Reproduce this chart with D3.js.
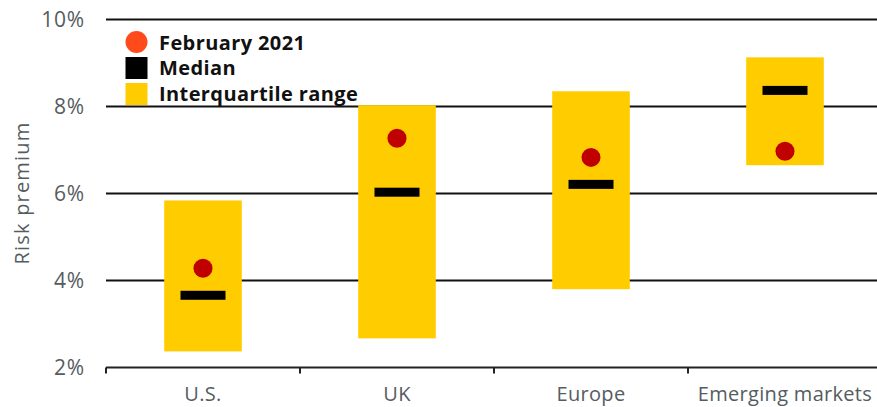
<!DOCTYPE html>
<html><head><meta charset="utf-8">
<script src="https://cdn.jsdelivr.net/npm/d3@7"></script>
<style>body{margin:0;background:#fff}svg{display:block}text{font-family:"Open Sans",Roboto,sans-serif}</style>
</head><body><svg id="c" width="877" height="407"></svg>
<script>
const categories = ["U.S.", "UK", "Europe", "Emerging markets"];
const q1 = [2.37, 2.67, 3.80, 6.65];
const q3 = [5.84, 8.03, 8.35, 9.13];
const median = [3.66, 6.03, 6.21, 8.37];
const feb2021 = [4.28, 7.27, 6.83, 6.97];
const yTicks = [2, 4, 6, 8, 10];
const legendItems = ["February 2021", "Median", "Interquartile range"];

const svg = d3.select("#c");
const x = d3.scaleBand().domain(categories).range([106, 882]).paddingInner(0.6).paddingOuter(0.3);
const y = d3.scaleLinear().domain([2, 10]).range([367.5, 19.5]);
const grey = "#555c60";

// gridlines
svg.append("g").selectAll("line").data(yTicks.filter(d => d > 2)).join("line")
  .attr("x1", 106).attr("x2", 877).attr("y1", d => y(d)).attr("y2", d => y(d))
  .attr("stroke", "#111").attr("stroke-width", 2);

// y tick labels
svg.append("g").selectAll("text").data(yTicks).join("text")
  .attr("x", 85).attr("y", d => y(d) + 7.5).attr("text-anchor", "end")
  .attr("font-size", 21).attr("letter-spacing", 0.8).attr("fill", grey).text(d => d + "%");

// y title
svg.append("text").attr("transform", "translate(29,193) rotate(-90)")
  .attr("text-anchor", "middle").attr("font-size", 20).attr("letter-spacing", 1.2)
  .attr("fill", grey).text("Risk premium");

// boxes
const gx = d => x(d);
svg.append("g").selectAll("rect").data(categories).join("rect")
  .attr("x", d => gx(d)).attr("width", x.bandwidth())
  .attr("y", (d, i) => y(q3[i])).attr("height", (d, i) => y(q1[i]) - y(q3[i]))
  .attr("fill", "#FFCC00");

// medians
const mw = 45, mh = 9;
svg.append("g").selectAll("rect").data(categories).join("rect")
  .attr("x", d => gx(d) + x.bandwidth() / 2 - mw / 2).attr("width", mw)
  .attr("y", (d, i) => y(median[i]) - mh / 2).attr("height", mh).attr("fill", "#000");

// dots
svg.append("g").selectAll("circle").data(categories).join("circle")
  .attr("cx", d => gx(d) + x.bandwidth() / 2).attr("cy", (d, i) => y(feb2021[i]))
  .attr("r", 9.5).attr("fill", "#C00000");

// x axis
const axisG = svg.append("g").attr("transform", `translate(0,${y(2)})`);
axisG.append("line").attr("x1", 106).attr("x2", 877).attr("stroke", "#222").attr("stroke-width", 2);
const bounds = categories.map((d, i) => 106 + i * x.step());
axisG.selectAll("line.t").data(bounds).join("line").attr("class", "t")
  .attr("x1", d => d).attr("x2", d => d).attr("y1", 0).attr("y2", 6)
  .attr("stroke", "#222").attr("stroke-width", 2);
axisG.selectAll("text").data(categories).join("text")
  .attr("x", d => gx(d) + x.bandwidth() / 2).attr("y", 33).attr("text-anchor", "middle")
  .attr("font-size", 20).attr("letter-spacing", 0.3).attr("fill", grey).text(d => d);

// legend
const lg = svg.append("g");
lg.append("circle").attr("cx", 136.5).attr("cy", 42).attr("r", 11).attr("fill", "#FF4B1B");
lg.append("rect").attr("x", 125.5).attr("y", 57).attr("width", 22).attr("height", 22).attr("fill", "#000");
lg.append("rect").attr("x", 125.5).attr("y", 83).attr("width", 22).attr("height", 22).attr("fill", "#FFCC00");
lg.selectAll("text").data(legendItems).join("text")
  .attr("x", 159).attr("y", (d, i) => 49.5 + i * 25.5)
  .attr("font-size", 20).attr("letter-spacing", 0.4).attr("font-weight", "bold").attr("fill", "#111").text(d => d);
</script></body></html>
